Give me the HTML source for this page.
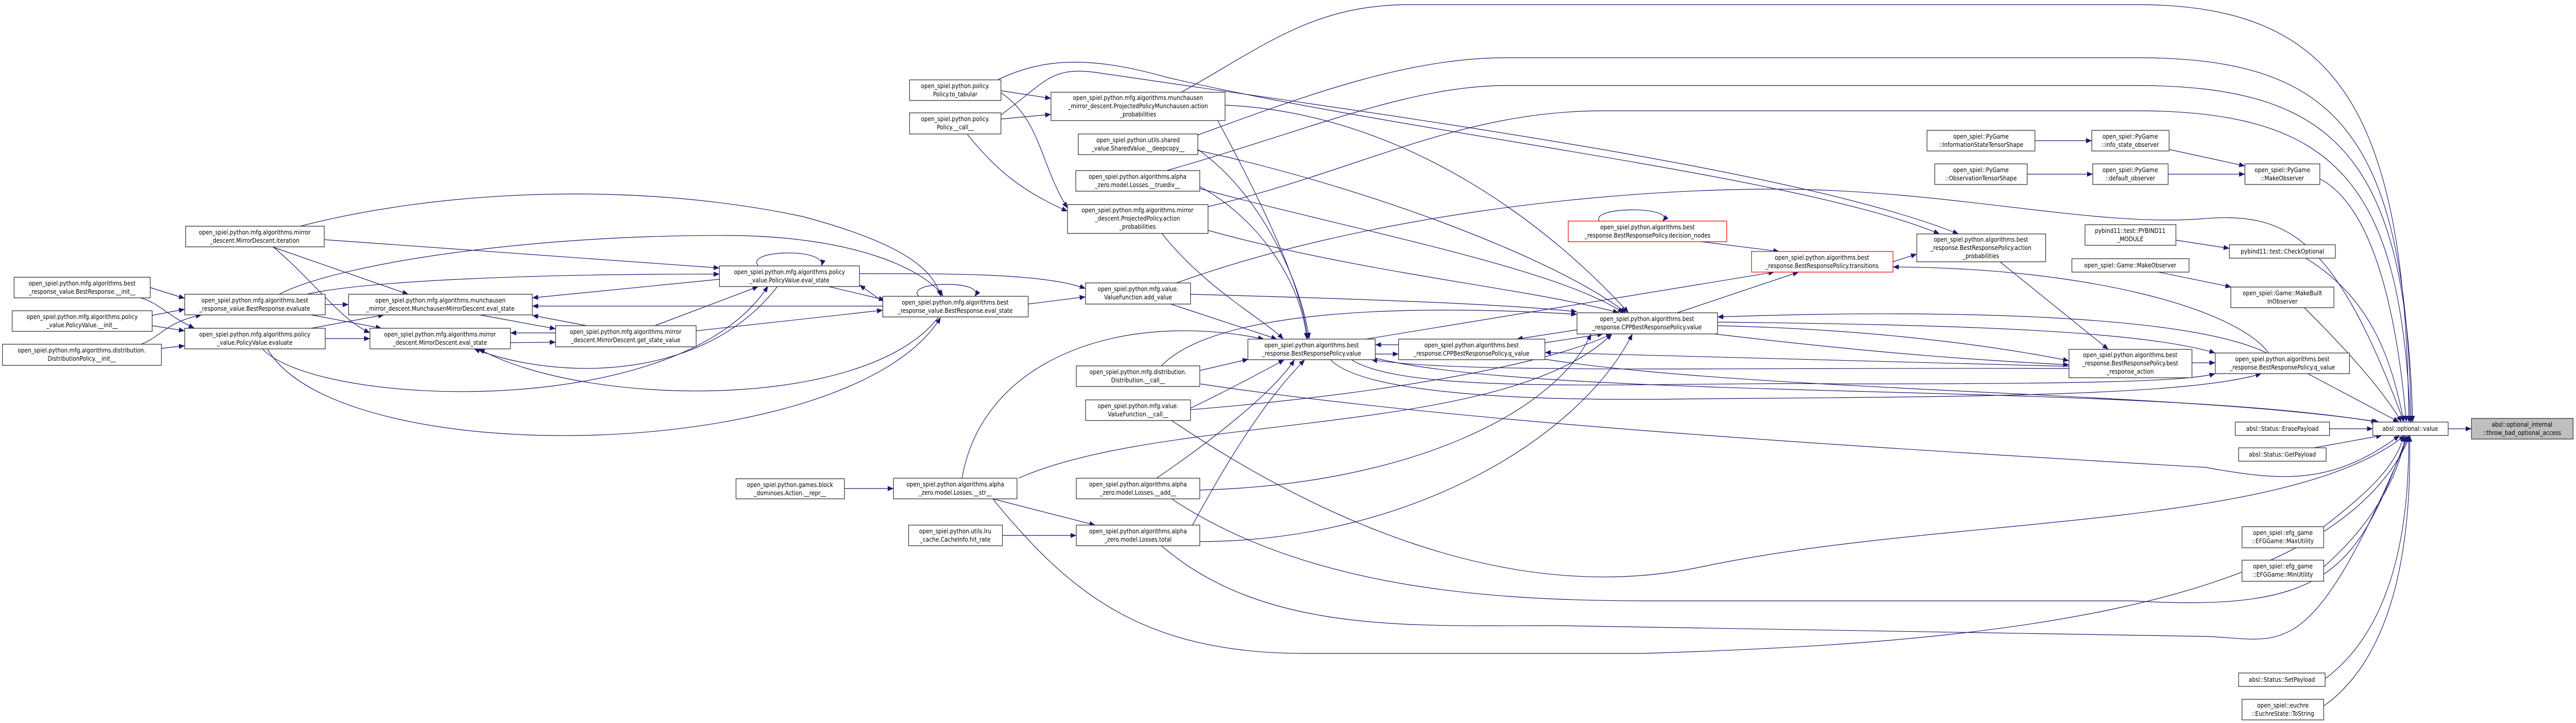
<!DOCTYPE html>
<html><head><meta charset="utf-8"><style>
html,body{margin:0;padding:0;background:#fff;width:100%;height:100%;overflow:hidden;}
svg{display:block;position:absolute;left:0;top:0;width:100vw;height:100vh;}
text{font-family:"DejaVu Sans Condensed","DejaVu Sans","Liberation Sans",sans-serif;font-size:12.5px;fill:#000;text-anchor:middle;}
.n{fill:#fff;stroke:#333;stroke-width:1.3;}
.r{fill:#fff;stroke:#f00;stroke-width:1.3;}
.g{fill:#bfbfbf;stroke:#333;stroke-width:1.3;}
path.e{fill:none;stroke:#191970;stroke-width:1.2;marker-end:url(#a);}
</style></head><body>
<svg viewBox="0 0 5299 1403" preserveAspectRatio="none" xmlns="http://www.w3.org/2000/svg">
<defs><marker id="a" markerUnits="userSpaceOnUse" markerWidth="13" markerHeight="10" refX="12" refY="5" orient="auto"><path d="M0,0 L12,5 L0,10 z" fill="#191970"/></marker></defs>
<g>
<path class="e" d="M309,558 L380,579"/>
<path class="e" d="M290,578 C330,590 340,610 400,637"/>
<path class="e" d="M313,612 L380,600"/>
<path class="e" d="M313,632 L380,642"/>
<path class="e" d="M290,668 C330,655 340,625 415,611"/>
<path class="e" d="M332,676 L380,671"/>
<path class="e" d="M669,591 L717,591"/>
<path class="e" d="M640,611 L785,637"/>
<path class="e" d="M669,657 L761,657"/>
<path class="e" d="M640,637 L790,611"/>
<path class="e" d="M560,479 L840,571"/>
<path class="e" d="M562,479 C650,550 700,620 761,646"/>
<path class="e" d="M666,465 L1480,520"/>
<path class="e" d="M617,439 C900,370 1300,350 1650,420 C1850,470 1920,520 1935,575"/>
<path class="e" d="M574,571 C700,510 1100,455 1500,457 C1750,458 1900,520 1940,575"/>
<path class="e" d="M631,571 C750,545 1100,531 1480,532"/>
<path class="e" d="M986,611 L1143,638"/>
<path class="e" d="M1207,632 L1095,612"/>
<path class="e" d="M1143,646 L1050,646"/>
<path class="e" d="M1050,665 L1143,664"/>
<path class="e" d="M1480,542 L1095,578"/>
<path class="e" d="M1816,594 L1095,594"/>
<path class="e" d="M1347,632 L1560,556"/>
<path class="e" d="M1432,642 L1816,602"/>
<path class="e" d="M1600,555 C1450,740 1150,740 975,677"/>
<path class="e" d="M1930,616 C1780,800 1200,790 985,677"/>
<path class="e" d="M540,677 C650,790 1400,820 1580,555"/>
<path class="e" d="M550,677 C700,920 1750,900 1935,616"/>
<path class="e" d="M1560,516 C1530,485 1700,480 1690,516"/>
<path class="e" d="M1890,575 C1860,545 2030,543 2005,575"/>
<path class="e" d="M1700,555 L1820,582"/>
<path class="e" d="M1816,585 L1768,553"/>
<path class="e" d="M1768,531 C1950,531 2150,530 2233,560"/>
<path class="e" d="M2115,590 L2233,576"/>
<path class="e" d="M2408,590 L2627,658"/>
<path class="e" d="M2449,571 C2800,580 3100,590 3244,605"/>
<path class="e" d="M2059,176 L2162,191"/>
<path class="e" d="M2059,231 L2162,222"/>
<path class="e" d="M2059,180 C2140,230 2140,320 2196,404"/>
<path class="e" d="M1990,261 C2050,330 2100,370 2196,410"/>
<path class="e" d="M2052,155 C2150,110 2250,110 2400,150 C2900,260 3700,340 3990,454"/>
<path class="e" d="M2059,223 C2150,160 2160,130 2250,140 C2900,230 3700,330 4029,454"/>
<path class="e" d="M2505,234 C2600,400 2680,560 2690,658"/>
<path class="e" d="M2464,290 C2600,380 2680,560 2693,658"/>
<path class="e" d="M2468,362 C2600,430 2680,560 2688,658"/>
<path class="e" d="M2390,453 C2480,560 2600,620 2640,658"/>
<path class="e" d="M2520,204 C2900,220 3200,450 3350,607"/>
<path class="e" d="M2464,292 C2800,360 3200,500 3345,607"/>
<path class="e" d="M2468,366 C2800,450 3200,520 3340,607"/>
<path class="e" d="M2485,447 C2800,530 3150,560 3330,607"/>
<path class="e" d="M2430,179 C2600,90 2700,9 2900,9 L4394,9 C4800,9 4950,200 4955,819"/>
<path class="e" d="M2464,262 C2700,180 2900,112 3100,112 L4394,112 C4800,112 4950,250 4960,819"/>
<path class="e" d="M2400,331 C2700,250 2900,166 3100,166 L4394,166 C4800,166 4950,300 4963,819"/>
<path class="e" d="M2485,401 C2800,330 3000,215 3300,215 L4394,215 C4800,215 4940,350 4958,819"/>
<path class="e" d="M2420,549 C2800,420 3300,367 3650,367 C4000,367 4300,440 4524,425 C4700,410 4800,450 4945,819"/>
<path class="e" d="M4186,273 L4303,273"/>
<path class="e" d="M4170,338 L4305,338"/>
<path class="e" d="M4462,290 L4618,322"/>
<path class="e" d="M4460,338 L4618,338"/>
<path class="e" d="M4772,347 C4880,400 4930,600 4950,819"/>
<path class="e" d="M4476,466 L4586,482"/>
<path class="e" d="M4743,501 C4880,580 4920,700 4945,819"/>
<path class="e" d="M4440,528 L4590,557"/>
<path class="e" d="M4740,597 C4850,700 4910,770 4940,819"/>
<path class="e" d="M3500,469 L3660,488"/>
<path class="e" d="M3290,429 C3270,400 3450,400 3420,429"/>
<path class="e" d="M3894,508 L3943,493"/>
<path class="e" d="M3450,607 L3700,528"/>
<path class="e" d="M2810,658 L3650,528"/>
<path class="e" d="M4667,685 C4600,600 4300,520 3894,518"/>
<path class="e" d="M4114,508 L4337,678"/>
<path class="e" d="M4509,704 L4557,704"/>
<path class="e" d="M4747,725 L4935,819"/>
<path class="e" d="M3533,632 C3900,640 4150,680 4256,700"/>
<path class="e" d="M3526,648 C3900,690 4100,700 4256,708"/>
<path class="e" d="M4256,711 L3178,684"/>
<path class="e" d="M4256,715 C3500,713 3000,725 2821,698"/>
<path class="e" d="M4663,685 C4500,610 4000,600 3533,615"/>
<path class="e" d="M3533,625 C4000,630 4400,640 4557,685"/>
<path class="e" d="M2737,698 C2800,760 3100,780 3484,774 C4000,770 4500,770 4652,725"/>
<path class="e" d="M2780,698 C2900,770 3400,740 3800,745 C4300,745 4500,740 4557,725"/>
<path class="e" d="M3178,697 C3600,760 4500,760 4894,819"/>
<path class="e" d="M2829,687 L2877,687"/>
<path class="e" d="M2877,669 L2829,669"/>
<path class="e" d="M3244,640 L3120,658"/>
<path class="e" d="M3178,665 L3298,648"/>
<path class="e" d="M2829,695 C3200,780 4400,740 4890,819"/>
<path class="e" d="M2469,745 C3000,820 3800,866 4537,907 C4700,935 4800,940 4936,845"/>
<path class="e" d="M2410,816 C2700,1000 3100,1180 3500,1100 C4000,1000 4700,1030 4947,845"/>
<path class="e" d="M2410,968 C2700,1150 3100,1166 3400,1166 L4389,1166 C4800,1190 4850,1100 4952,845"/>
<path class="e" d="M2389,1059 C2600,1230 2900,1214 3200,1214 L4537,1235 C4700,1240 4750,1300 4955,845"/>
<path class="e" d="M2042,968 C2200,1150 2350,1268 2684,1268 L3379,1268 C4000,1250 4800,1200 4958,845"/>
<path class="e" d="M2042,968 L2253,1019"/>
<path class="e" d="M2095,928 C2400,800 3100,850 3316,648"/>
<path class="e" d="M1979,928 C2020,700 2300,600 2600,658"/>
<path class="e" d="M2062,1039 L2214,1039"/>
<path class="e" d="M1737,948 L1838,948"/>
<path class="e" d="M2453,1019 C2550,850 2620,760 2684,698"/>
<path class="e" d="M2468,1051 C2900,1050 3250,850 3358,648"/>
<path class="e" d="M2379,928 C2500,850 2620,760 2663,698"/>
<path class="e" d="M2468,951 C2900,940 3200,800 3273,648"/>
<path class="e" d="M2449,792 C2520,760 2600,720 2642,698"/>
<path class="e" d="M2449,795 C2900,760 3200,700 3316,648"/>
<path class="e" d="M2468,719 L2568,697"/>
<path class="e" d="M2389,710 C2500,600 2900,590 3244,610"/>
<path class="e" d="M4780,1022 C4880,950 4930,900 4945,845"/>
<path class="e" d="M4780,1100 C4900,1000 4940,900 4948,845"/>
<path class="e" d="M4783,1317 C4950,1200 4955,950 4955,845"/>
<path class="e" d="M4780,1370 C4960,1250 4958,950 4957,845"/>
<path class="e" d="M4792,832 L4881,832"/>
<path class="e" d="M4760,869 L4900,845"/>
<path class="e" d="M5036,832 L5084,832"/>
</g>
<g>
<rect class="n" x="1871" y="155" width="188" height="40"/><text x="1965" y="171">open_spiel.python.policy.</text><text x="1965" y="187">Policy.to_tabular</text>
<rect class="n" x="1871" y="219" width="188" height="41"/><text x="1965" y="235">open_spiel.python.policy.</text><text x="1965" y="251">Policy.__call__</text>
<rect class="n" x="2162" y="179" width="358" height="55"/><text x="2341" y="194">open_spiel.python.mfg.algorithms.munchausen</text><text x="2341" y="210">_mirror_descent.ProjectedPolicyMunchausen.action</text><text x="2341" y="226">_probabilities</text>
<rect class="n" x="2218" y="260" width="246" height="40"/><text x="2341" y="276">open_spiel.python.utils.shared</text><text x="2341" y="292">_value.SharedValue.__deepcopy__</text>
<rect class="n" x="2213" y="331" width="255" height="40"/><text x="2340" y="347">open_spiel.python.algorithms.alpha</text><text x="2340" y="363">_zero.model.Losses.__truediv__</text>
<rect class="n" x="2196" y="397" width="289" height="56"/><text x="2340" y="412">open_spiel.python.mfg.algorithms.mirror</text><text x="2340" y="428">_descent.ProjectedPolicy.action</text><text x="2340" y="444">_probabilities</text>
<rect class="n" x="382" y="439" width="285" height="40"/><text x="524" y="455">open_spiel.python.mfg.algorithms.mirror</text><text x="524" y="471">_descent.MirrorDescent.iteration</text>
<rect class="n" x="29" y="538" width="280" height="40"/><text x="169" y="554">open_spiel.python.mfg.algorithms.best</text><text x="169" y="570">_response_value.BestResponse.__init__</text>
<rect class="n" x="25" y="603" width="288" height="40"/><text x="169" y="619">open_spiel.python.mfg.algorithms.policy</text><text x="169" y="635">_value.PolicyValue.__init__</text>
<rect class="n" x="5" y="668" width="327" height="41"/><text x="168" y="684">open_spiel.python.mfg.algorithms.distribution.</text><text x="168" y="700">DistributionPolicy.__init__</text>
<rect class="n" x="380" y="571" width="289" height="40"/><text x="524" y="587">open_spiel.python.mfg.algorithms.best</text><text x="524" y="603">_response_value.BestResponse.evaluate</text>
<rect class="n" x="380" y="637" width="289" height="40"/><text x="524" y="653">open_spiel.python.mfg.algorithms.policy</text><text x="524" y="669">_value.PolicyValue.evaluate</text>
<rect class="n" x="717" y="571" width="378" height="40"/><text x="906" y="587">open_spiel.python.mfg.algorithms.munchausen</text><text x="906" y="603">_mirror_descent.MunchausenMirrorDescent.eval_state</text>
<rect class="n" x="761" y="637" width="289" height="40"/><text x="905" y="653">open_spiel.python.mfg.algorithms.mirror</text><text x="905" y="669">_descent.MirrorDescent.eval_state</text>
<rect class="n" x="1143" y="632" width="289" height="41"/><text x="1287" y="648">open_spiel.python.mfg.algorithms.mirror</text><text x="1287" y="664">_descent.MirrorDescent.get_state_value</text>
<rect class="n" x="1480" y="516" width="288" height="40"/><text x="1624" y="532">open_spiel.python.mfg.algorithms.policy</text><text x="1624" y="548">_value.PolicyValue.eval_state</text>
<rect class="n" x="1816" y="575" width="299" height="40"/><text x="1965" y="591">open_spiel.python.mfg.algorithms.best</text><text x="1965" y="607">_response_value.BestResponse.eval_state</text>
<rect class="n" x="2233" y="549" width="216" height="41"/><text x="2341" y="565">open_spiel.python.mfg.value.</text><text x="2341" y="581">ValueFunction.add_value</text>
<rect class="n" x="2567" y="658" width="262" height="40"/><text x="2698" y="674">open_spiel.python.algorithms.best</text><text x="2698" y="690">_response.BestResponsePolicy.value</text>
<rect class="n" x="2877" y="658" width="301" height="40"/><text x="3027" y="674">open_spiel.python.algorithms.best</text><text x="3027" y="690">_response.CPPBestResponsePolicy.q_value</text>
<rect class="n" x="3244" y="607" width="289" height="41"/><text x="3388" y="623">open_spiel.python.algorithms.best</text><text x="3388" y="639">_response.CPPBestResponsePolicy.value</text>
<rect class="n" x="2214" y="710" width="254" height="40"/><text x="2341" y="726">open_spiel.python.mfg.distribution.</text><text x="2341" y="742">Distribution.__call__</text>
<rect class="n" x="2233" y="776" width="216" height="40"/><text x="2341" y="792">open_spiel.python.mfg.value.</text><text x="2341" y="808">ValueFunction.__call__</text>
<rect class="n" x="1514" y="929" width="223" height="39"/><text x="1625" y="945">open_spiel.python.games.block</text><text x="1625" y="961">_dominoes.Action.__repr__</text>
<rect class="n" x="1838" y="928" width="254" height="40"/><text x="1965" y="944">open_spiel.python.algorithms.alpha</text><text x="1965" y="960">_zero.model.Losses.__str__</text>
<rect class="n" x="2214" y="928" width="254" height="40"/><text x="2341" y="944">open_spiel.python.algorithms.alpha</text><text x="2341" y="960">_zero.model.Losses.__add__</text>
<rect class="n" x="1869" y="1019" width="193" height="40"/><text x="1965" y="1035">open_spiel.python.utils.lru</text><text x="1965" y="1051">_cache.CacheInfo.hit_rate</text>
<rect class="n" x="2214" y="1019" width="254" height="40"/><text x="2341" y="1035">open_spiel.python.algorithms.alpha</text><text x="2341" y="1051">_zero.model.Losses.total</text>
<rect class="r" x="3226" y="429" width="326" height="40"/><text x="3389" y="445">open_spiel.python.algorithms.best</text><text x="3389" y="461">_response.BestResponsePolicy.decision_nodes</text>
<rect class="r" x="3603" y="488" width="291" height="40"/><text x="3748" y="504">open_spiel.python.algorithms.best</text><text x="3748" y="520">_response.BestResponsePolicy.transitions</text>
<rect class="n" x="3943" y="454" width="265" height="54"/><text x="4075" y="469">open_spiel.python.algorithms.best</text><text x="4075" y="485">_response.BestResponsePolicy.action</text><text x="4075" y="501">_probabilities</text>
<rect class="n" x="4256" y="678" width="253" height="55"/><text x="4382" y="693">open_spiel.python.algorithms.best</text><text x="4382" y="709">_response.BestResponsePolicy.best</text><text x="4382" y="725">_response_action</text>
<rect class="n" x="4557" y="685" width="276" height="40"/><text x="4695" y="701">open_spiel.python.algorithms.best</text><text x="4695" y="717">_response.BestResponsePolicy.q_value</text>
<rect class="n" x="3964" y="253" width="222" height="40"/><text x="4075" y="269">open_spiel::PyGame</text><text x="4075" y="285">::InformationStateTensorShape</text>
<rect class="n" x="4303" y="253" width="159" height="40"/><text x="4382" y="269">open_spiel::PyGame</text><text x="4382" y="285">::info_state_observer</text>
<rect class="n" x="3980" y="318" width="190" height="40"/><text x="4075" y="334">open_spiel::PyGame</text><text x="4075" y="350">::ObservationTensorShape</text>
<rect class="n" x="4305" y="318" width="155" height="40"/><text x="4382" y="334">open_spiel::PyGame</text><text x="4382" y="350">::default_observer</text>
<rect class="n" x="4618" y="318" width="154" height="40"/><text x="4695" y="334">open_spiel::PyGame</text><text x="4695" y="350">::MakeObserver</text>
<rect class="n" x="4289" y="436" width="187" height="40"/><text x="4382" y="452">pybind11::test::PYBIND11</text><text x="4382" y="468">_MODULE</text>
<rect class="n" x="4586" y="475" width="218" height="26"/><text x="4695" y="492">pybind11::test::CheckOptional</text>
<rect class="n" x="4262" y="502" width="241" height="26"/><text x="4382" y="519">open_spiel::Game::MakeObserver</text>
<rect class="n" x="4589" y="557" width="212" height="40"/><text x="4695" y="573">open_spiel::Game::MakeBuilt</text><text x="4695" y="589">InObserver</text>
<rect class="n" x="4598" y="819" width="194" height="26"/><text x="4695" y="836">absl::Status::ErasePayload</text>
<rect class="n" x="4881" y="819" width="155" height="26"/><text x="4958" y="836">absl::optional::value</text>
<rect class="g" x="5084" y="812" width="209" height="40"/><text x="5188" y="828">absl::optional_internal</text><text x="5188" y="844">::throw_bad_optional_access</text>
<rect class="n" x="4605" y="869" width="180" height="26"/><text x="4695" y="886">absl::Status::GetPayload</text>
<rect class="n" x="4612" y="1022" width="168" height="41"/><text x="4696" y="1038">open_spiel::efg_game</text><text x="4696" y="1054">::EFGGame::MaxUtility</text>
<rect class="n" x="4612" y="1087" width="168" height="41"/><text x="4696" y="1103">open_spiel::efg_game</text><text x="4696" y="1119">::EFGGame::MinUtility</text>
<rect class="n" x="4605" y="1306" width="178" height="26"/><text x="4694" y="1323">absl::Status::SetPayload</text>
<rect class="n" x="4612" y="1357" width="168" height="40"/><text x="4696" y="1373">open_spiel::euchre</text><text x="4696" y="1389">::EuchreState::ToString</text>
</g>
</svg>
</body></html>
